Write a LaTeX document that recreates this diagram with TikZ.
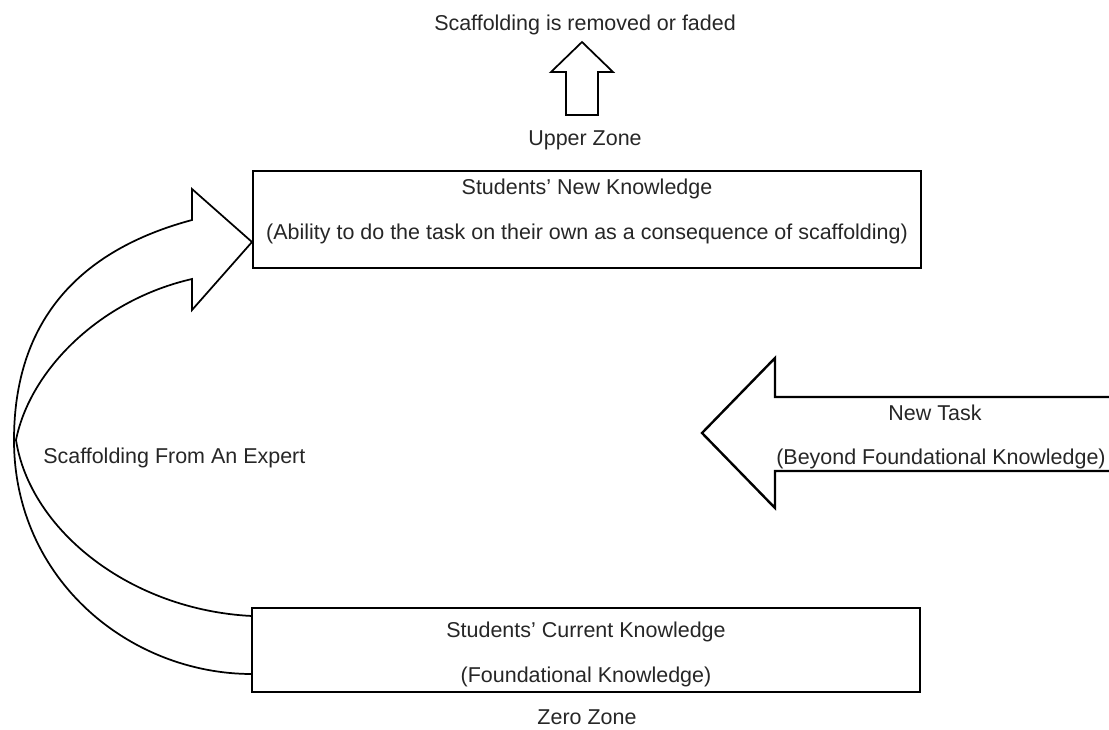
\documentclass[tikz,border=0pt]{standalone}
\usepackage{fontspec}
\setmainfont{Liberation Sans}
\tikzset{
  lbl/.style={text=black!85, font=\fontsize{16.1}{19}\selectfont, inner sep=0pt},
  boxline/.style={line width=1.8pt},
  curveline/.style={line width=1.3pt}
}
\begin{document}
\begin{tikzpicture}[x=0.75pt, y=-0.75pt]
			%%%%% START %%%%%
			\useasboundingbox (0,0) rectangle (1109,729);
			
			\node[lbl] (faded) at (585,25) {Scaffolding is removed or faded};
			\draw[curveline] (566,115) -- (566,72) -- (551,72) -- (582,42) -- (613,72) -- (598,72) -- (598,115) -- cycle;
			\node[lbl] (upper) at (585,140) {Upper Zone};
			
			\draw[boxline] (253,171) rectangle (921,268);
			\node[lbl] (newk) at (587,189) {Students’ New Knowledge};
			\node[lbl] (ability) at (587,234) {(Ability to do the task on their own as a consequence of scaffolding)};
			
			\draw[curveline] (252,616) .. controls (130,610) and (30,530) .. (16,440)
				.. controls (30,370) and (100,300) .. (192,279) -- (192,310) -- (252,242)
				-- (192,189) -- (192,220) .. controls (80,250) and (14,320) .. (14,440)
				.. controls (14,580) and (130,674) .. (252,674);
			\node[lbl, anchor=west] (expert) at (43,458) {Scaffolding From An Expert};
			
			\draw[boxline] (1112,397) -- (775,397) -- (775,358) -- (702,433) -- (775,508) -- (775,471) -- (1112,471);
			\node[lbl] (task) at (935,413) {New Task};
			\node[lbl] (beyond) at (941,459) {(Beyond Foundational Knowledge)};
			
			\draw[boxline] (252,608) rectangle (920,692);
			\node[lbl] (curk) at (586,632) {Students’ Current Knowledge};
			\node[lbl] (found) at (586,677) {(Foundational Knowledge)};
			\node[lbl] (zero) at (587,717) {Zero Zone};
			
			%%%%% END %%%%%
\end{tikzpicture}
\end{document}
